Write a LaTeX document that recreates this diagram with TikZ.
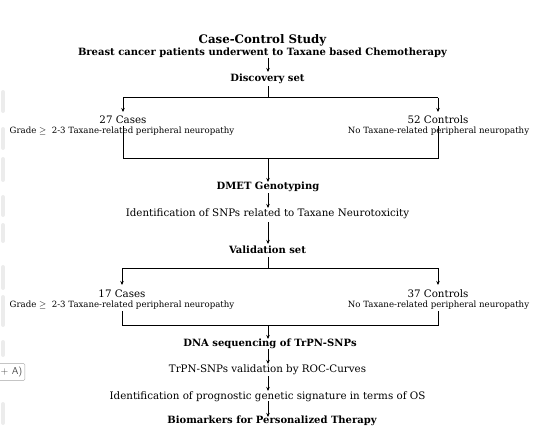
\documentclass[tikz,border=0pt]{standalone}
\usepackage{fontspec}
\setmainfont{DejaVu Serif}
\usetikzlibrary{arrows.meta}
\begin{document}
\begin{tikzpicture}[x=1pt,y=-1pt,
  bold/.style={font=\bfseries\fontsize{10}{12}\selectfont, inner sep=1pt},
  title/.style={font=\bfseries\fontsize{11.8}{14}\selectfont, inner sep=1pt},
  plain/.style={font=\fontsize{10.3}{12}\selectfont, inner sep=1pt},
  small/.style={font=\fontsize{8.6}{10}\selectfont, inner sep=1pt},
  conn/.style={line width=1pt, black},
  arr/.style={conn, -{Stealth[length=4pt,width=3.5pt]}},
  artifact/.style={line width=4pt, line cap=round, gray!15}]
\useasboundingbox (0,0) rectangle (542,431);
% left-edge artifacts
\draw[artifact] (3,92) -- (3,111);
\draw[artifact] (3,129) -- (3,148);
\draw[artifact] (3,159) -- (3,180);
\draw[artifact] (3,197) -- (3,215);
\draw[artifact] (3,225) -- (3,241);
\draw[artifact] (3,267) -- (3,288);
\draw[artifact] (3,297) -- (3,325);
\draw[artifact] (3,342) -- (3,355);
\draw[artifact] (3,404) -- (3,423);
\node[draw=gray!70, fill=white, rounded corners=1pt, font=\sffamily\fontsize{10}{11}\selectfont, text=gray!60!black, anchor=west, minimum height=15pt, inner xsep=2.5pt] (btn) at (-2,372) {+ A)};

% texts
\node[title] (t1) at (262.5,40) {Case-Control Study};
\node[bold] (t2) at (262.5,53) {Breast cancer patients underwent to Taxane based Chemotherapy};
\node[bold] (disc) at (267.5,79) {Discovery set};
\node[plain] (c1) at (123,119.5) {27 Cases};
\node[small] (g1) at (122,131.5) {Grade \(\geq\)\ \ 2-3 Taxane-related peripheral neuropathy};
\node[plain] (k1) at (438,119.5) {52 Controls};
\node[small] (n1) at (438.5,131.5) {No Taxane-related peripheral neuropathy};
\node[bold] (dmet) at (268,187) {DMET Genotyping};
\node[plain] (snp) at (267.5,214) {Identification of SNPs related to Taxane Neurotoxicity};
\node[bold] (val) at (267.5,250) {Validation set};
\node[plain] (c2) at (122,294) {17 Cases};
\node[small] (g2) at (122,305.5) {Grade \(\geq\)\ \ 2-3 Taxane-related peripheral neuropathy};
\node[plain] (k2) at (438,294) {37 Controls};
\node[small] (n2) at (438.5,305.5) {No Taxane-related peripheral neuropathy};
\node[bold] (dna) at (270,344) {DNA sequencing of TrPN-SNPs};
\node[plain] (roc) at (267.5,370) {TrPN-SNPs validation by ROC-Curves};
\node[plain] (os) at (267.5,397) {Identification of prognostic genetic signature in terms of OS};
\node[bold] (bio) at (272,421) {Biomarkers for Personalized Therapy};

% coordinates
\coordinate (s1) at (268,58);
\coordinate (d1) at (268,72);
\coordinate (b1) at (268,86);
\coordinate (h1) at (268,97.7);
\coordinate (hl1) at (123,97.7);
\coordinate (hr1) at (438,97.7);
\coordinate (al1) at (123,112);
\coordinate (ar1) at (438,112);
\coordinate (vl1) at (123,126);
\coordinate (vr1) at (438,126);
\coordinate (ml1) at (123,158);
\coordinate (mr1) at (438,158);
\coordinate (m1) at (268,158);
\coordinate (e1) at (268,182);

\draw[arr] (s1) -- (d1);
\draw[conn] (b1) -- (h1);
\draw[arr] (hl1) -- (al1);
\draw[arr] (hr1) -- (ar1);
\draw[conn] (hl1) -- (hr1);
\draw[conn] (vl1) -- (ml1) -- (mr1) -- (vr1);
\draw[arr] (m1) -- (e1);

\coordinate (s2) at (268,193);
\coordinate (d2) at (268,208);
\coordinate (s3) at (268,222);
\coordinate (d3) at (268,244);
\draw[arr] (s2) -- (d2);
\draw[arr] (s3) -- (d3);

\coordinate (b2) at (268,257);
\coordinate (h2) at (268,268);
\coordinate (hl2) at (122,268);
\coordinate (hr2) at (438,268);
\coordinate (al2) at (122,285);
\coordinate (ar2) at (438,285);
\coordinate (vl2) at (122,311);
\coordinate (vr2) at (438,311);
\coordinate (ml2) at (122,325);
\coordinate (mr2) at (438,325);
\coordinate (m2) at (268,325);
\coordinate (e2) at (268,339);
\draw[conn] (b2) -- (h2);
\draw[conn] (hl2) -- (hr2);
\draw[arr] (hl2) -- (al2);
\draw[arr] (hr2) -- (ar2);
\draw[conn] (vl2) -- (ml2) -- (mr2) -- (vr2);
\draw[arr] (m2) -- (e2);

\coordinate (s4) at (268,349);
\coordinate (d4) at (268,364);
\coordinate (s5) at (268,376);
\coordinate (d5) at (268,391);
\coordinate (s6) at (268,401);
\coordinate (d6) at (268,417);
\draw[arr] (s4) -- (d4);
\draw[arr] (s5) -- (d5);
\draw[arr] (s6) -- (d6);
\end{tikzpicture}
\end{document}
